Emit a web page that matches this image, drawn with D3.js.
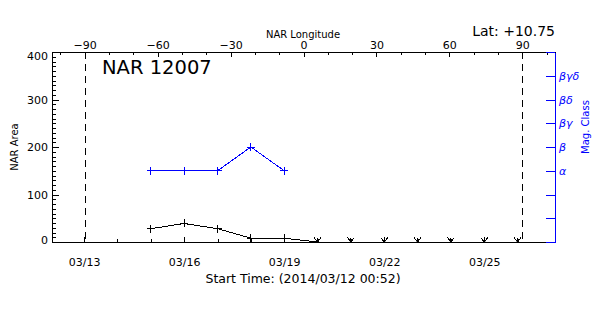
<!DOCTYPE html>
<html>
<head>
<meta charset="utf-8">
<script src="https://cdn.jsdelivr.net/npm/d3@7"></script>
<style>
  body { margin: 0; background: #fff; }
  svg { display: block; font-family: "DejaVu Sans", sans-serif; }
  .axis path, .axis line { shape-rendering: crispEdges; }
  .axis text { font-family: "DejaVu Sans", sans-serif; }
</style>
</head>
<body>
<div id="chart"></div>
<script>
// --- Data ---
const areaDates = ['2014-03-15', '2014-03-16', '2014-03-17', '2014-03-18', '2014-03-19', '2014-03-20',
  '2014-03-21', '2014-03-22', '2014-03-23', '2014-03-24', '2014-03-25', '2014-03-26'];
const areaValues = [28, 39, 28, 8, 8, 0, 0, 0, 0, 0, 0, 0];

const classDates = ['2014-03-15', '2014-03-16', '2014-03-17', '2014-03-18', '2014-03-19'];
const classValues = [3, 3, 3, 4, 3]; // index into magLabels

const magLabels = ['', '', '', 'α', 'β', 'βγ', 'βδ', 'βγδ', ''];
const areaTicks = [0, 100, 200, 300, 400];
const lonTicks = [-90, -60, -30, 0, 30, 60, 90];
const dateTicks = ['2014-03-13', '2014-03-16', '2014-03-19', '2014-03-22', '2014-03-25'];
const limbLons = [-90, 90];

const title = 'NAR 12007';
const latText = 'Lat: +10.75';
const startText = 'Start Time: (2014/03/12 00:52)';

// --- Layout ---
const W = 600, H = 315;
const pLeft = 52, pRight = 555, pTop = 52, pBottom = 242;
const BLUE = '#0000ff';

const parse = d3.utcParse('%Y-%m-%d');
const fmt = d3.utcFormat('%m/%d');

const svg = d3.select('#chart').append('svg')
  .attr('width', W).attr('height', H);

// --- Scales ---
const x = d3.scaleUtc()
  .domain([new Date(Date.UTC(2014, 2, 12, 0, 52)), new Date(Date.UTC(2014, 2, 27, 2, 55))])
  .range([pLeft, pRight]);
const lon = d3.scaleLinear().domain([-103.45, 103.45]).range([pLeft, pRight]);
const y = d3.scaleLinear().domain([0, 400]).range([pBottom, pTop]);
const yMag = d3.scaleLinear().domain([0, 8]).range([pBottom, pTop]);

// --- Axes ---
// left: minor every 10, major every 100
svg.append('g').attr('class', 'axis')
  .attr('transform', `translate(${pLeft},0)`)
  .call(d3.axisLeft(y).tickValues(d3.range(0, 401, 10)).tickSize(-4).tickSizeOuter(0).tickFormat(''));
const yAx = svg.append('g').attr('class', 'axis')
  .attr('transform', `translate(${pLeft},0)`)
  .call(d3.axisLeft(y).tickValues(areaTicks).tickSize(-7).tickSizeOuter(0).tickPadding(4));
yAx.selectAll('text').attr('font-size', 11).attr('dy', '0.36em')
  .attr('transform', d => d === 400 ? 'translate(0,4)' : d === 0 ? 'translate(0,-2)' : null);

// bottom: daily minor, 3-day major
const days = d3.utcDay.range(parse('2014-03-13'), parse('2014-03-27'));
svg.append('g').attr('class', 'axis')
  .attr('transform', `translate(0,${pBottom})`)
  .call(d3.axisBottom(x).tickValues(days).tickSize(-3).tickSizeOuter(0).tickFormat(''));
const xAx = svg.append('g').attr('class', 'axis')
  .attr('transform', `translate(0,${pBottom})`)
  .call(d3.axisBottom(x).tickValues(dateTicks.map(parse)).tickSize(-5).tickSizeOuter(0)
    .tickPadding(16).tickFormat(fmt));
xAx.selectAll('text').attr('font-size', 11);

// top: longitude, minor every 10
svg.append('g').attr('class', 'axis')
  .attr('transform', `translate(0,${pTop})`)
  .call(d3.axisTop(lon).tickValues(d3.range(-100, 101, 10)).tickSize(-3).tickSizeOuter(0).tickFormat(''));
const tAx = svg.append('g').attr('class', 'axis')
  .attr('transform', `translate(0,${pTop})`)
  .call(d3.axisTop(lon).tickValues(lonTicks).tickSize(-5).tickSizeOuter(0).tickPadding(3)
    .tickFormat(d => d < 0 ? '\u2212' + Math.abs(d) : d));
tAx.selectAll('text').attr('font-size', 11);

// right: magnetic class (blue)
const rAx = svg.append('g').attr('class', 'axis')
  .attr('transform', `translate(${pRight},0)`)
  .call(d3.axisRight(yMag).tickValues(d3.range(0, 9)).tickSize(-9).tickSizeOuter(0).tickPadding(4)
    .tickFormat(i => magLabels[i]));
rAx.selectAll('path, line').attr('stroke', BLUE);
rAx.selectAll('text').attr('fill', BLUE).attr('font-size', 11).attr('font-style', 'italic');

// --- Limb lines ---
svg.append('g').selectAll('line').data(limbLons).join('line')
  .attr('x1', d => Math.round(lon(d)) + 0.5).attr('x2', d => Math.round(lon(d)) + 0.5)
  .attr('y1', pTop).attr('y2', pBottom)
  .attr('stroke', '#000').attr('stroke-dasharray', '7,5');

// --- Series ---
const area = areaDates.map((d, i) => ({ date: parse(d), v: areaValues[i] }));
const mag = classDates.map((d, i) => ({ date: parse(d), v: classValues[i] }));

const plusPath = 'M-4,0H4M0,-4V4';
const arrowPath = 'M-3.5,-4.5L0,0L3.5,-4.5M0,-4.5V0';

svg.append('path').datum(area)
  .attr('fill', 'none').attr('stroke', '#000').attr('shape-rendering', 'crispEdges')
  .attr('d', d3.line().x(d => x(d.date)).y(d => y(d.v)));
svg.append('g').selectAll('path').data(area).join('path')
  .attr('transform', d => `translate(${x(d.date)},${y(d.v)})`)
  .attr('d', d => d.v > 0 ? plusPath : arrowPath)
  .attr('fill', 'none').attr('stroke', '#000').attr('shape-rendering', 'crispEdges');
svg.append('g').selectAll('rect').data(area.filter(d => d.v === 0)).join('rect')
  .attr('x', d => x(d.date) - 1).attr('y', d => y(d.v) - 1)
  .attr('width', 2).attr('height', 2).attr('fill', '#000');

svg.append('path').datum(mag)
  .attr('fill', 'none').attr('stroke', BLUE).attr('shape-rendering', 'crispEdges')
  .attr('d', d3.line().x(d => x(d.date)).y(d => yMag(d.v)));
svg.append('g').selectAll('path').data(mag).join('path')
  .attr('transform', d => `translate(${x(d.date)},${yMag(d.v)})`)
  .attr('d', plusPath)
  .attr('fill', 'none').attr('stroke', BLUE).attr('shape-rendering', 'crispEdges');

// --- Text ---
svg.append('text').attr('x', 102).attr('y', 74).attr('font-size', 19.5).text(title);
svg.append('text').attr('x', 555).attr('y', 36).attr('text-anchor', 'end').attr('font-size', 14).text(latText);
svg.append('text').attr('x', 303).attr('y', 38).attr('text-anchor', 'middle').attr('font-size', 10).text('NAR Longitude');
svg.append('text').attr('x', 303).attr('y', 283).attr('text-anchor', 'middle').attr('font-size', 12.5).text(startText);
svg.append('text').attr('transform', 'translate(18,147) rotate(-90)')
  .attr('text-anchor', 'middle').attr('font-size', 10).text('NAR Area');
svg.append('text').attr('transform', 'translate(589,127) rotate(-90)')
  .attr('text-anchor', 'middle').attr('font-size', 10).attr('fill', BLUE).text('Mag. Class');
</script>
</body>
</html>
